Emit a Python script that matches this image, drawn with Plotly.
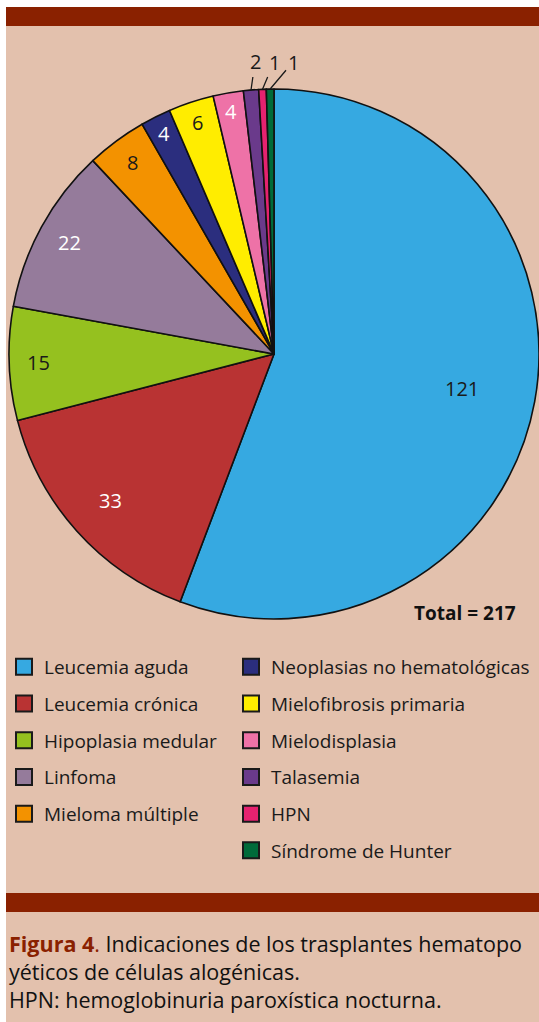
import math
import plotly.graph_objects as go

# ---- data ----
categories = ["Leucemia aguda", "Leucemia crónica", "Hipoplasia medular", "Linfoma",
              "Mieloma múltiple", "Neoplasias no hematológicas", "Mielofibrosis primaria",
              "Mielodisplasia", "Talasemia", "HPN", "Síndrome de Hunter"]
values = [121, 33, 15, 22, 8, 4, 6, 4, 2, 1, 1]
colors = ["#36A9E1", "#B93333", "#95C11F", "#957B9B", "#F39200", "#2B2E7E",
          "#FFED00", "#EE72A7", "#6A3A8B", "#E5226F", "#006B3A"]
label_colors = ["#1a1a1a", "white", "#1a1a1a", "white", "#1a1a1a", "white",
                "#1a1a1a", "white", None, None, None]
label_radius = [0.72, 0.83, 0.89, 0.88, 0.90, 0.93, 0.92, 0.93, None, None, None]
outside_text_x = [None] * 8 + [255, 274, 293]   # px positions of the small outside labels
legend_left = categories[:5]
legend_right = categories[5:]
total_text = "Total = 217"

W, H = 539, 1022
BG = "#E3C1AD"
DARK = "#8A2100"
FONT = "Open Sans"

# pie geometry (pixels)
cx, cy, R = 274, 354, 265
dom_x = [(cx - R) / W, (cx + R) / W]
dom_y = [1 - (cy + R) / H, 1 - (cy - R) / H]

fig = go.Figure()
fig.add_trace(go.Pie(
    labels=categories, values=values, sort=False, direction="clockwise", rotation=0,
    marker=dict(colors=colors, line=dict(color="#111111", width=1.6)),
    textinfo="none", hoverinfo="label+value", showlegend=False,
    domain=dict(x=dom_x, y=dom_y),
))

# legend entries (two columns)
for i, name in enumerate(categories):
    fig.add_trace(go.Scatter(
        x=[None], y=[None], mode="markers", name=name,
        marker=dict(symbol="square", size=16, color=colors[i],
                    line=dict(color="#1a1a1a", width=2)),
        legend="legend" if name in legend_left else "legend2",
        legendgroup=name, showlegend=True,
    ))

annotations = []
total = sum(values)
cum = 0
for i, v in enumerate(values):
    mid = (cum + v / 2) / total * 2 * math.pi
    cum += v
    if label_radius[i] is not None:
        px = cx + label_radius[i] * R * math.sin(mid)
        py = cy - label_radius[i] * R * math.cos(mid)
        annotations.append(dict(x=px / W, y=1 - py / H, xref="paper", yref="paper",
                                xanchor="center", yanchor="middle",
                                text=str(v), showarrow=False,
                                font=dict(family=FONT, size=20, color=label_colors[i])))
    else:
        tx = cx + R * math.sin(mid)
        ty = cy - R * math.cos(mid)
        annotations.append(dict(x=tx / W, y=1 - ty / H, xref="paper", yref="paper",
                                text=str(v), showarrow=True, arrowhead=0, arrowwidth=1.3,
                                arrowcolor="#1a1a1a", ax=outside_text_x[i] - tx,
                                ay=62 - ty, standoff=0,
                                font=dict(family=FONT, size=20, color="#1a1a1a")))

annotations.append(dict(x=518 / W, y=1 - 613 / H, xref="paper", yref="paper",
                        xanchor="right", yanchor="middle",
                        text="<b>" + total_text + "</b>", showarrow=False,
                        font=dict(family=FONT, size=19, color="#111111")))

caption = ("<span style='color:%s'><b>Figura 4</b>.</span> Indicaciones de los trasplantes hematopo<br>"
           "yéticos de células alogénicas.<br>HPN: hemoglobinuria paroxística nocturna." % DARK)
annotations.append(dict(x=7 / W, y=1 - 927 / H, xref="paper", yref="paper",
                        xanchor="left", yanchor="top", align="left", text=caption,
                        showarrow=False,
                        font=dict(family=FONT, size=21.5, color="#111111")))

shapes = [
    dict(type="rect", xref="paper", yref="paper", x0=6 / W, x1=1, y0=0, y1=1 - 7 / H,
         fillcolor=BG, line_width=0, layer="below"),
    dict(type="rect", xref="paper", yref="paper", x0=6 / W, x1=1, y0=1 - 26 / H, y1=1 - 7 / H,
         fillcolor=DARK, line_width=0, layer="below"),
    dict(type="rect", xref="paper", yref="paper", x0=6 / W, x1=1, y0=1 - 912 / H, y1=1 - 893 / H,
         fillcolor=DARK, line_width=0, layer="below"),
]

legend_style = dict(font=dict(family=FONT, size=19, color="#1a1a1a"), bgcolor="rgba(0,0,0,0)",
                    itemsizing="trace", tracegroupgap=9, xanchor="left", yanchor="top",
                    itemclick=False, itemdoubleclick=False)

fig.update_layout(
    width=W, height=H, margin=dict(l=0, r=0, t=0, b=0),
    paper_bgcolor="white", plot_bgcolor="rgba(0,0,0,0)",
    xaxis=dict(visible=False, domain=[0, 0.01]), yaxis=dict(visible=False, domain=[0, 0.01]),
    shapes=shapes, annotations=annotations,
    legend=dict(x=4 / W, y=1 - 648 / H, **legend_style),
    legend2=dict(x=231 / W, y=1 - 648 / H, **legend_style),
)

fig.write_html(
    "out.html", config={"displayModeBar": False},
    post_script=("document.body.style.margin='0';document.body.style.overflow='hidden';"
                 "document.getElementById('{plot_id}').style.overflow='hidden';"),
)
